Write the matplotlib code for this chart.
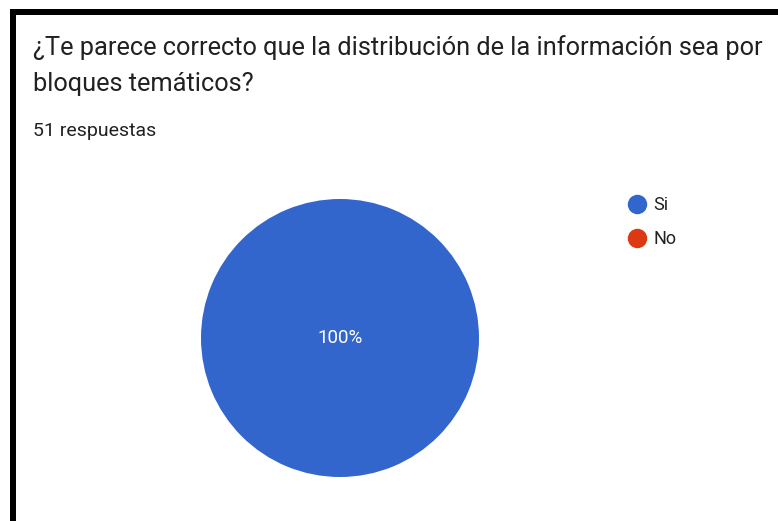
import matplotlib
matplotlib.use("Agg")
import matplotlib.pyplot as plt
from matplotlib.lines import Line2D
from matplotlib.patches import Rectangle

plt.rcParams['font.family'] = ['Roboto', 'DejaVu Sans']

labels = ["Si", "No"]
counts = [51, 0]
colors = ["#3366CC", "#DC3912"]
title_lines = ["¿Te parece correcto que la distribución de la información sea por",
               "bloques temáticos?"]
subtitle = "51 respuestas"

W, H = 778, 521
fig = plt.figure(figsize=(W / 100, H / 100), dpi=100)
fig.patch.set_facecolor("white")

def fx(x):
    return x / W

def fy(y):
    return 1 - y / H

# black frame on top and left
fig.add_artist(Rectangle((fx(10), fy(15)), fx(W - 10), 6 / H, transform=fig.transFigure,
                         color="black", lw=0))
fig.add_artist(Rectangle((fx(10), 0), 6 / W, fy(9), transform=fig.transFigure,
                         color="black", lw=0))

txt = "#212121"
fig.text(fx(33), fy(55), title_lines[0], fontsize=18.3, color=txt, va="baseline")
fig.text(fx(33), fy(91), title_lines[1], fontsize=18.3, color=txt, va="baseline")
fig.text(fx(33), fy(136), subtitle, fontsize=14, color=txt, va="baseline")

# pie
cx, cy, r = 340, 338, 139
ax = fig.add_axes([fx(cx - r), fy(cy + r), 2 * r / W, 2 * r / H])
ax.pie(counts, colors=colors, radius=1, startangle=90, counterclock=False,
       autopct=lambda p: f"{p:.0f}%" if p >= 1 else "",
       pctdistance=0.0, textprops=dict(color="white", fontsize=13.5),
       wedgeprops=dict(linewidth=0))
ax.set_xlim(-1, 1)
ax.set_ylim(-1, 1)
ax.set_aspect("equal")
ax.axis("off")

handles = [Line2D([0], [0], marker="o", ls="", markersize=14, color=c,
                  markeredgewidth=0) for c in colors]
fig.legend(handles, labels, loc="upper left", bbox_to_anchor=(fx(627), fy(196)),
           frameon=False, fontsize=13, handletextpad=0.35, labelspacing=0.9,
           labelcolor=txt, borderaxespad=0, borderpad=0, handlelength=1.1)

fig.savefig("out.png", dpi=100)
